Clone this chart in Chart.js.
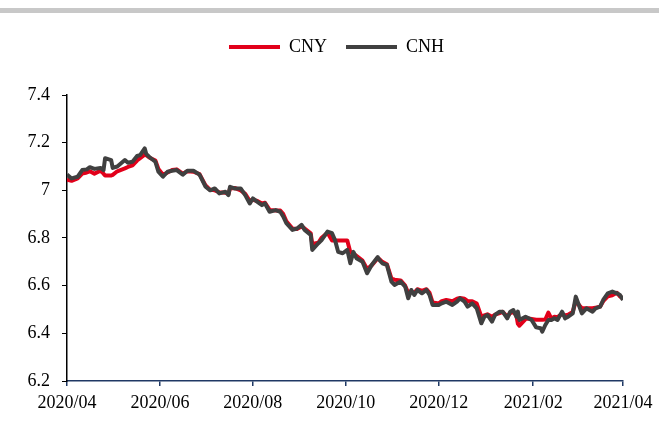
<!DOCTYPE html>
<html>
<head>
<meta charset="utf-8">
<script src="https://cdn.jsdelivr.net/npm/chart.js@4.4.0/dist/chart.umd.min.js"></script>
<style>
  body { margin: 0; background: #fff; }
  #wrap { position: relative; width: 663px; height: 423px; }
  #topbar { position: absolute; left: 0; top: 8px; width: 659px; height: 5px; background: #c8c8c8; }
</style>
</head>
<body>
<div id="wrap">
  <div id="topbar"></div>
  <canvas id="myChart" width="663" height="423"></canvas>
</div>
<script>
const dates = [
  '2020-04-01','2020-04-04','2020-04-08','2020-04-11','2020-04-14','2020-04-16','2020-04-19','2020-04-23','2020-04-25','2020-04-26',
  '2020-04-30','2020-05-01','2020-05-04','2020-05-09','2020-05-11','2020-05-14','2020-05-17','2020-05-19','2020-05-22','2020-05-23',
  '2020-05-25','2020-05-29','2020-05-31','2020-06-03','2020-06-06','2020-06-09','2020-06-12','2020-06-16','2020-06-19','2020-06-23',
  '2020-06-27','2020-07-01','2020-07-04','2020-07-07','2020-07-10','2020-07-14','2020-07-16','2020-07-17','2020-07-20','2020-07-24',
  '2020-07-27','2020-07-30','2020-08-01','2020-08-04','2020-08-07','2020-08-09','2020-08-12','2020-08-16','2020-08-19','2020-08-21',
  '2020-08-23','2020-08-27','2020-08-30','2020-09-02','2020-09-04','2020-09-08','2020-09-09','2020-09-13','2020-09-15','2020-09-19',
  '2020-09-22','2020-09-24','2020-09-26','2020-09-29','2020-10-02','2020-10-04','2020-10-06','2020-10-08','2020-10-12','2020-10-15',
  '2020-10-18','2020-10-22','2020-10-23','2020-10-25','2020-10-28','2020-10-31','2020-11-02','2020-11-06','2020-11-09','2020-11-11',
  '2020-11-13','2020-11-15','2020-11-17','2020-11-20','2020-11-23','2020-11-25','2020-11-27','2020-12-01','2020-12-03','2020-12-06',
  '2020-12-10','2020-12-13','2020-12-15','2020-12-18','2020-12-20','2020-12-23','2020-12-26','2020-12-29','2020-12-31','2021-01-02',
  '2021-01-05','2021-01-07','2021-01-10','2021-01-12','2021-01-15','2021-01-17','2021-01-19','2021-01-21','2021-01-22','2021-01-23',
  '2021-01-27','2021-01-29','2021-01-31','2021-02-03','2021-02-06','2021-02-07','2021-02-09','2021-02-11','2021-02-13','2021-02-15',
  '2021-02-17','2021-02-20','2021-02-22','2021-02-24','2021-02-27','2021-03-01','2021-03-03','2021-03-05','2021-03-08','2021-03-12',
  '2021-03-14','2021-03-17','2021-03-19','2021-03-22','2021-03-25','2021-03-28','2021-03-30','2021-04-01'
];

const cny = [
  7.045, 7.040, 7.050, 7.070, 7.075, 7.080, 7.070, 7.082, 7.070, 7.062,
  7.062, 7.065, 7.080, 7.092, 7.098, 7.105, 7.125, 7.135, 7.150, 7.148,
  7.138, 7.125, 7.090, 7.065, 7.075, 7.085, 7.088, 7.070, 7.080, 7.078,
  7.068, 7.020, 7.002, 7.000, 6.992, 6.990, 6.985, 7.008, 7.010, 7.000,
  6.985, 6.955, 6.960, 6.955, 6.945, 6.948, 6.918, 6.915, 6.915, 6.900,
  6.870, 6.840, 6.838, 6.848, 6.840, 6.820, 6.775, 6.780, 6.800, 6.822,
  6.790, 6.790, 6.790, 6.790, 6.790, 6.740, 6.735, 6.725, 6.705, 6.670,
  6.685, 6.715, 6.712, 6.700, 6.690, 6.630, 6.625, 6.622, 6.600, 6.570,
  6.575, 6.570, 6.585, 6.578, 6.585, 6.570, 6.530, 6.525, 6.535, 6.540,
  6.535, 6.545, 6.548, 6.545, 6.535, 6.535, 6.525, 6.470, 6.475, 6.480,
  6.470, 6.478, 6.485, 6.490, 6.470, 6.485, 6.490, 6.475, 6.440, 6.432,
  6.460, 6.462, 6.460, 6.457, 6.457, 6.457, 6.458, 6.487, 6.462, 6.470,
  6.468, 6.482, 6.475, 6.478, 6.490, 6.535, 6.520, 6.505, 6.505, 6.505,
  6.508, 6.512, 6.535, 6.555, 6.560, 6.570, 6.555, 6.545
];

const cnh = [
  7.066, 7.050, 7.057, 7.085, 7.088, 7.097, 7.090, 7.094, 7.085, 7.135,
  7.127, 7.094, 7.100, 7.127, 7.116, 7.120, 7.144, 7.148, 7.176, 7.153,
  7.140, 7.120, 7.078, 7.057, 7.078, 7.082, 7.085, 7.066, 7.082, 7.082,
  7.066, 7.015, 7.000, 7.008, 6.987, 6.994, 6.980, 7.015, 7.008, 7.008,
  6.980, 6.945, 6.966, 6.952, 6.938, 6.945, 6.910, 6.917, 6.910, 6.890,
  6.862, 6.834, 6.840, 6.855, 6.834, 6.813, 6.750, 6.778, 6.790, 6.827,
  6.820, 6.790, 6.742, 6.736, 6.750, 6.694, 6.742, 6.715, 6.700, 6.652,
  6.687, 6.720, 6.708, 6.694, 6.687, 6.617, 6.603, 6.617, 6.596, 6.547,
  6.582, 6.561, 6.582, 6.568, 6.582, 6.561, 6.519, 6.519, 6.526, 6.533,
  6.519, 6.533, 6.547, 6.533, 6.512, 6.526, 6.505, 6.442, 6.470, 6.477,
  6.449, 6.477, 6.491, 6.491, 6.463, 6.491, 6.498, 6.470, 6.491, 6.456,
  6.470, 6.463, 6.456, 6.425, 6.421, 6.407, 6.435, 6.456, 6.456, 6.463,
  6.456, 6.491, 6.463, 6.470, 6.484, 6.554, 6.519, 6.484, 6.505, 6.491,
  6.505, 6.512, 6.540, 6.568, 6.575, 6.568, 6.561, 6.540
];

const tickDates = ['2020-04-01', '2020-06-01', '2020-08-01', '2020-10-01', '2020-12-01', '2021-02-01', '2021-04-01'];
const tickLabels = ['2020/04', '2020/06', '2020/08', '2020/10', '2020/12', '2021/02', '2021/04'];

const serif = '"Liberation Serif", "Times New Roman", serif';
const start = Date.UTC(2020, 3, 1);

function dayOf(s) {
  const p = s.split('-').map(Number);
  return (Date.UTC(p[0], p[1] - 1, p[2]) - start) / 86400000;
}

function toPoints(vals) {
  return vals.map((v, i) => ({ x: dayOf(dates[i]), y: v }));
}

// push the plot down below the legend, and centre the legend over the plot
const legendGap = {
  id: 'legendGap',
  beforeInit(chart) {
    const fit = chart.legend.fit;
    chart.legend.fit = function () {
      fit.bind(chart.legend)();
      this.height += 29;
    };
  },
  afterLayout(chart) {
    chart.legend.left = 50;
  }
};

new Chart(document.querySelector('#myChart'), {
  type: 'line',
  data: {
    datasets: [
      { label: 'CNY', data: toPoints(cny), borderColor: '#e2001a', backgroundColor: '#e2001a',
        borderWidth: 4, pointRadius: 0, tension: 0, borderJoinStyle: 'round', order: 1 },
      { label: 'CNH', data: toPoints(cnh), borderColor: '#404040', backgroundColor: '#404040',
        borderWidth: 4, pointRadius: 0, tension: 0, borderJoinStyle: 'round', order: 0 }
    ]
  },
  options: {
    responsive: false,
    animation: false,
    devicePixelRatio: 1,
    layout: { padding: { top: 19, left: 0, right: 40, bottom: 0 } },
    plugins: {
      legend: {
        position: 'top',
        labels: {
          font: { family: serif, size: 18 },
          color: '#000',
          boxWidth: 51,
          boxHeight: 4,
          padding: 19,
          generateLabels: (chart) => chart.data.datasets.map((ds, i) => ({
            text: ds.label,
            fillStyle: ds.borderColor,
            strokeStyle: ds.borderColor,
            lineWidth: 0,
            fontColor: '#000',
            hidden: false,
            datasetIndex: i
          }))
        }
      },
      tooltip: { enabled: false }
    },
    scales: {
      x: {
        type: 'linear',
        min: 0,
        max: 365,
        afterBuildTicks: (scale) => { scale.ticks = tickDates.map(d => ({ value: dayOf(d) })); },
        afterFit: (scale) => { scale.height = 42; },
        ticks: {
          callback: (v, i) => tickLabels[i],
          font: { family: serif, size: 18 },
          color: '#000',
          padding: 6,
          maxRotation: 0,
          autoSkip: false
        },
        grid: { drawOnChartArea: false, drawTicks: true, tickLength: 5, color: '#1f3864', lineWidth: 1.5 },
        border: { color: '#1f3864', width: 1.5 }
      },
      y: {
        min: 6.2,
        max: 7.4,
        afterFit: (scale) => { scale.width = 67; },
        ticks: {
          stepSize: 0.2,
          callback: (v) => String(Number(v.toFixed(1))),
          font: { family: serif, size: 18 },
          color: '#000',
          padding: 12
        },
        grid: { drawOnChartArea: false, drawTicks: true, tickLength: 5, color: '#000', lineWidth: 1 },
        border: { color: '#000', width: 1.5 }
      }
    }
  },
  plugins: [legendGap]
});
</script>
</body>
</html>
